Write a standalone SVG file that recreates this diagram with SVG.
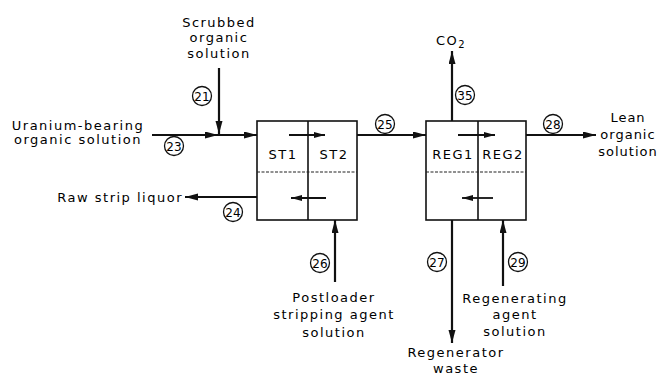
<svg xmlns="http://www.w3.org/2000/svg" width="660" height="376" viewBox="0 0 660 376">
<style>
text{font-family:"DejaVu Sans","Liberation Sans",sans-serif;font-size:13px;fill:#000;letter-spacing:1.5px}
.c{text-anchor:middle}
.tight{letter-spacing:1px}
.n{font-size:12px;letter-spacing:0;text-anchor:middle}
.box{fill:#fff;stroke:#111;stroke-width:1.6}
.div{stroke:#111;stroke-width:1.6;fill:none}
.dash{stroke:#222;stroke-width:1.1;stroke-dasharray:3 1.5;fill:none}
.flow{stroke:#111;stroke-width:2.2;fill:none}
.inner{stroke:#111;stroke-width:1.8;fill:none}
.tag{fill:#fff;stroke:#111;stroke-width:1.3}
</style>
<defs>
<marker id="ah" markerUnits="userSpaceOnUse" markerWidth="13" markerHeight="8" refX="13" refY="3.5" orient="auto">
<path d="M0,0 L13,3.5 L0,7 z" fill="#111"/>
</marker>
<marker id="ahs" markerUnits="userSpaceOnUse" markerWidth="11" markerHeight="7" refX="11" refY="3" orient="auto">
<path d="M0,0 L11,3 L0,6 z" fill="#111"/>
</marker>
</defs>

<g id="connectors">
<line class="flow" x1="152" y1="135" x2="218" y2="135" marker-end="url(#ah)"/>
<line class="flow" x1="218" y1="135" x2="257" y2="135" marker-end="url(#ah)"/>
<line class="flow" x1="219" y1="68" x2="219" y2="134" marker-end="url(#ah)"/>
<line class="flow" x1="257" y1="197" x2="185" y2="197" marker-end="url(#ah)"/>
<line class="flow" x1="335" y1="282" x2="335" y2="220" marker-end="url(#ah)"/>
<line class="flow" x1="357" y1="135" x2="426" y2="135" marker-end="url(#ah)"/>
<line class="flow" x1="452" y1="121" x2="452" y2="51" marker-end="url(#ah)"/>
<line class="flow" x1="526" y1="135" x2="596" y2="135" marker-end="url(#ah)"/>
<line class="flow" x1="452" y1="220" x2="452" y2="343" marker-end="url(#ah)"/>
<line class="flow" x1="503" y1="286" x2="503" y2="220" marker-end="url(#ah)"/>
<circle class="tag" cx="202" cy="96" r="9.5"/><text class="n" x="202" y="100.5">21</text>
<circle class="tag" cx="174" cy="146" r="9.5"/><text class="n" x="174" y="150.5">23</text>
<circle class="tag" cx="233" cy="212" r="9.5"/><text class="n" x="233" y="216.5">24</text>
<circle class="tag" cx="320" cy="263" r="9.5"/><text class="n" x="320" y="267.5">26</text>
<circle class="tag" cx="385" cy="124" r="9.5"/><text class="n" x="385" y="128.5">25</text>
<circle class="tag" cx="465" cy="95" r="9.5"/><text class="n" x="465" y="99.5">35</text>
<circle class="tag" cx="553" cy="124" r="9.5"/><text class="n" x="553" y="128.5">28</text>
<circle class="tag" cx="437" cy="262" r="9.5"/><text class="n" x="437" y="266.5">27</text>
<circle class="tag" cx="518" cy="262" r="9.5"/><text class="n" x="518" y="266.5">29</text>
</g>

<g id="stripper">
<rect class="box" x="257" y="121" width="100" height="99"/>
<line class="div" x1="308" y1="121" x2="308" y2="220"/>
<path class="dash" d="M257,172 L357,172"/>
<text class="c" x="283" y="159">ST1</text>
<text class="c" x="334" y="159">ST2</text>
<line class="inner" x1="289" y1="135" x2="325" y2="135" marker-end="url(#ahs)"/>
<line class="inner" x1="326" y1="198" x2="291" y2="198" marker-end="url(#ahs)"/>
</g>

<g id="regenerator">
<rect class="box" x="426" y="121" width="100" height="99"/>
<line class="div" x1="478" y1="121" x2="478" y2="220"/>
<path class="dash" d="M426,172 L526,172"/>
<text class="c" x="453" y="159">REG1</text>
<text class="c" x="503" y="159">REG2</text>
<line class="inner" x1="458" y1="135" x2="495" y2="135" marker-end="url(#ahs)"/>
<line class="inner" x1="493" y1="198" x2="462" y2="198" marker-end="url(#ahs)"/>
</g>

<g id="scrubbed-organic">
<text class="c" x="219" y="27">Scrubbed</text>
<text class="c" x="219" y="42">organic</text>
<text class="c" x="219" y="58">solution</text>
</g>
<g id="uranium-organic">
<text class="c" x="78" y="130">Uranium-bearing</text>
<text class="c" x="78" y="144">organic solution</text>
</g>
<g id="raw-strip-liquor">
<text x="183" y="202" text-anchor="end">Raw strip liquor</text>
</g>
<g id="postloader">
<text class="c" x="334" y="302">Postloader</text>
<text class="c" x="334" y="319">stripping agent</text>
<text class="c" x="334" y="337">solution</text>
</g>
<g id="co2">
<text class="c" x="451" y="45">CO<tspan font-size="10" dy="3">2</tspan></text>
</g>
<g id="lean-organic">
<text class="c tight" x="628" y="122">Lean</text>
<text class="c tight" x="628" y="139">organic</text>
<text class="c tight" x="628" y="156">solution</text>
</g>
<g id="regenerator-waste">
<text class="c" x="456" y="357">Regenerator</text>
<text class="c" x="456" y="373">waste</text>
</g>
<g id="regenerating-agent">
<text class="c" x="515" y="303">Regenerating</text>
<text class="c" x="515" y="319">agent</text>
<text class="c" x="515" y="336">solution</text>
</g>
</svg>
